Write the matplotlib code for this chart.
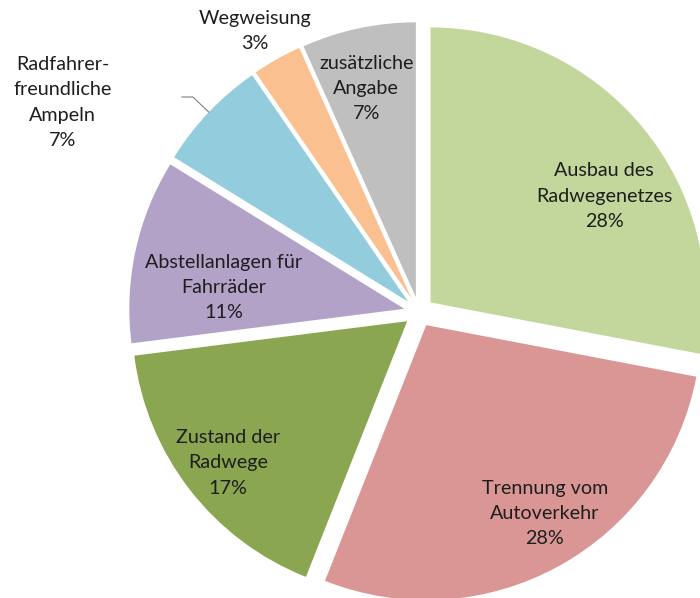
import matplotlib
matplotlib.use("Agg")
import matplotlib.pyplot as plt
import numpy as np

# Survey shares (percent) for bicycle infrastructure wishes
categories = [
    "Ausbau des\nRadwegenetzes",
    "Trennung vom\nAutoverkehr",
    "Zustand der\nRadwege",
    "Abstellanlagen für\nFahrräder",
    "Radfahrer-\nfreundliche\nAmpeln",
    "Wegweisung",
    "zusätzliche\nAngabe",
]
shares = [28.0, 28.0, 17.0, 10.8, 6.6, 2.9, 6.7]
colors = ["#C3D69B", "#D99694", "#8AA650", "#B3A2C7", "#93CDDD", "#FAC090", "#BFBFBF"]

# label placement: (angle offset from slice middle in degrees, distance as fraction of radius)
label_place = [(-8.1, 0.74), (3.4, 0.81), (0.6, 0.83), (5.6, 0.66), (13.6, 1.45), (1.0, 1.13), (1.3, 0.78)]

W, H = 700, 598
fig = plt.figure(figsize=(W / 100, H / 100), dpi=100)
ax = fig.add_axes([0, 0, 1, 1])

radius = 275
center = (419, H - 312)
wedges, _ = ax.pie(
    shares, colors=colors, startangle=90, counterclock=False,
    radius=radius, center=center, explode=[15] * len(shares),
    wedgeprops=dict(linewidth=0),
)
ax.set_xlim(0, W)
ax.set_ylim(0, H)
ax.set_aspect("equal")
ax.axis("off")

font = dict(family="Lato", fontsize=14.2, color="#1E1E1E", linespacing=1.58,
            ha="center", va="center")

for w, cat, share, (dth, frac) in zip(wedges, categories, shares, label_place):
    mid = np.deg2rad((w.theta1 + w.theta2) / 2)
    ang = mid + np.deg2rad(dth)
    cx, cy = w.center
    tx = cx + frac * w.r * np.cos(ang)
    ty = cy + frac * w.r * np.sin(ang)
    ax.text(tx, ty, f"{cat}\n{round(share)}%", **font)
    if frac > 1.3:
        # leader line from the arc outwards, then a short horizontal run
        x0 = cx + w.r * np.cos(mid)
        y0 = cy + w.r * np.sin(mid)
        x1 = cx + 1.08 * w.r * np.cos(mid)
        y1 = cy + 1.08 * w.r * np.sin(mid)
        ax.plot([x0, x1, x1 - 11], [y0, y1, y1], color="#808080", lw=0.8)

fig.savefig("out.png", dpi=100)
